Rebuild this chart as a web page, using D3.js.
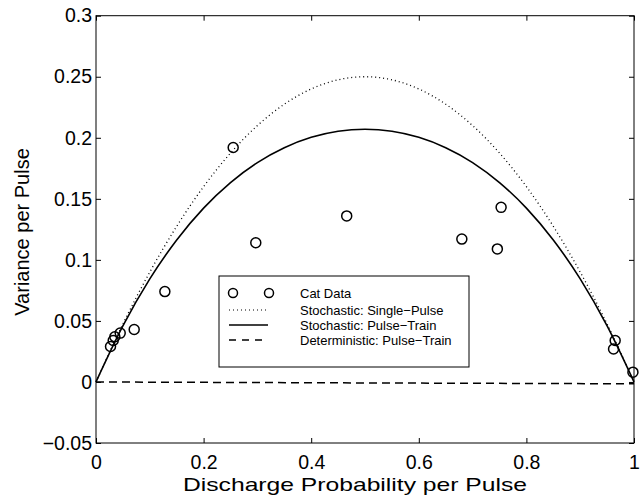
<!DOCTYPE html>
<html><head><meta charset="utf-8">
<script src="https://cdn.jsdelivr.net/npm/d3@7"></script>
<style>
body{margin:0;background:#fff;}
svg{display:block;}
text{font-family:"Liberation Sans",Arial,Helvetica,sans-serif;fill:#000;}
</style></head>
<body>
<svg id="chart" width="643" height="497"></svg>
<script>
// ---- data ----
const catP = [0.027, 0.032, 0.035, 0.045, 0.071, 0.128, 0.255, 0.297, 0.466, 0.680, 0.746, 0.753, 0.962, 0.965, 0.998];
const catVar = [0.029, 0.034, 0.037, 0.040, 0.043, 0.074, 0.192, 0.114, 0.136, 0.117, 0.109, 0.143, 0.027, 0.034, 0.008];

const curveP = [0, 0.05, 0.1, 0.15, 0.2, 0.25, 0.3, 0.35, 0.4, 0.45, 0.5, 0.55, 0.6, 0.65, 0.7, 0.75, 0.8, 0.85, 0.9, 0.95, 1];
const singlePulse = [0, 0.0475, 0.09, 0.1275, 0.16, 0.1875, 0.21, 0.2275, 0.24, 0.2475, 0.25, 0.2475, 0.24, 0.2275, 0.21, 0.1875, 0.16, 0.1275, 0.09, 0.0475, 0];
const pulseTrain = [0, 0.0459, 0.0844, 0.1163, 0.1424, 0.1633, 0.1797, 0.1919, 0.2004, 0.2054, 0.207, 0.2054, 0.2004, 0.1919, 0.1797, 0.1633, 0.1424, 0.1163, 0.0844, 0.0459, 0];
const detP = [0, 0.5, 1];
const deterministic = [0, -0.0008, -0.0015];

const xTicks = [0, 0.2, 0.4, 0.6, 0.8, 1];
const xTickLabels = ["0", "0.2", "0.4", "0.6", "0.8", "1"];
const yTicks = [-0.05, 0, 0.05, 0.1, 0.15, 0.2, 0.25, 0.3];
const yTickLabels = ["\u22120.05", "0", "0.05", "0.1", "0.15", "0.2", "0.25", "0.3"];

const legendLabels = ["Cat Data", "Stochastic: Single\u2212Pulse", "Stochastic: Pulse\u2212Train", "Deterministic: Pulse\u2212Train"];

// ---- layout ----
const L = 96, R = 634, T = 15.7, B = 443;
const svg = d3.select("#chart");
const x = d3.scaleLinear().domain([0, 1]).range([L, R]);
const y = d3.scaleLinear().domain([-0.05, 0.3]).range([B, T]);

// box
svg.append("rect").attr("x", L).attr("y", T).attr("width", R - L).attr("height", B - T)
  .attr("fill", "none").attr("stroke", "#000").attr("stroke-width", 1);

const tickLen = 5;
const xb = svg.append("g").attr("transform", `translate(0,${B})`)
  .call(d3.axisBottom(x).tickValues(xTicks).tickSizeInner(-tickLen).tickSizeOuter(0).tickPadding(12)
    .tickFormat((d, i) => xTickLabels[i]));
const xt = svg.append("g").attr("transform", `translate(0,${T})`)
  .call(d3.axisTop(x).tickValues(xTicks).tickSizeInner(-tickLen).tickSizeOuter(0).tickFormat(""));
const yl = svg.append("g").attr("transform", `translate(${L},0)`)
  .call(d3.axisLeft(y).tickValues(yTicks).tickSizeInner(-tickLen).tickSizeOuter(0).tickPadding(4)
    .tickFormat((d, i) => yTickLabels[i]));
const yr = svg.append("g").attr("transform", `translate(${R},0)`)
  .call(d3.axisRight(y).tickValues(yTicks).tickSizeInner(-tickLen).tickSizeOuter(0).tickFormat(""));
[xb, xt, yl, yr].forEach(g => {
  g.select(".domain").remove();
  g.selectAll("line").attr("stroke", "#000");
  g.selectAll("text").attr("font-size", 19.5).attr("fill", "#000")
    .style("font-family", '"Liberation Sans",Arial,sans-serif');
});

// axis titles
svg.append("text").attr("x", 355).attr("y", 491).attr("text-anchor", "middle")
  .attr("font-size", 18.5).attr("textLength", 344).attr("lengthAdjust", "spacingAndGlyphs")
  .text("Discharge Probability per Pulse");
svg.append("text").attr("transform", `translate(29,232) rotate(-90)`)
  .attr("text-anchor", "middle").attr("font-size", 20).text("Variance per Pulse");

// curves
const line = d3.line().x(d => x(d[0])).y(d => y(d[1])).curve(d3.curveMonotoneX);
svg.append("path").datum(curveP.map((p, i) => [p, singlePulse[i]])).attr("d", line)
  .attr("fill", "none").attr("stroke", "#000").attr("stroke-width", 1.3).attr("stroke-dasharray", "1,3");
svg.append("path").datum(curveP.map((p, i) => [p, pulseTrain[i]])).attr("d", line)
  .attr("fill", "none").attr("stroke", "#000").attr("stroke-width", 1.6);
svg.append("path").datum(detP.map((p, i) => [p, deterministic[i]])).attr("d", d3.line().x(d => x(d[0])).y(d => y(d[1])))
  .attr("fill", "none").attr("stroke", "#000").attr("stroke-width", 1.5).attr("stroke-dasharray", "8,5");

// cat data
svg.append("g").selectAll("circle").data(catP.map((p, i) => [p, catVar[i]])).join("circle")
  .attr("cx", d => x(d[0])).attr("cy", d => y(d[1])).attr("r", 5)
  .attr("fill", "none").attr("stroke", "#000").attr("stroke-width", 1.5);

// legend
const lg = svg.append("g");
lg.append("rect").attr("x", 219).attr("y", 276).attr("width", 250).attr("height", 91)
  .attr("fill", "#fff").attr("stroke", "#000").attr("stroke-width", 1);
const rowsY = [293, 310, 325, 340];
const sx0 = 229, sx1 = 268;
lg.append("circle").attr("cx", 233).attr("cy", rowsY[0]).attr("r", 4.5).attr("fill", "none").attr("stroke", "#000").attr("stroke-width", 1.5);
lg.append("circle").attr("cx", 269).attr("cy", rowsY[0]).attr("r", 4.5).attr("fill", "none").attr("stroke", "#000").attr("stroke-width", 1.5);
lg.append("line").attr("x1", sx0).attr("x2", sx1).attr("y1", rowsY[1]).attr("y2", rowsY[1])
  .attr("stroke", "#000").attr("stroke-width", 1.2).attr("stroke-dasharray", "1,3");
lg.append("line").attr("x1", sx0).attr("x2", sx1).attr("y1", rowsY[2]).attr("y2", rowsY[2])
  .attr("stroke", "#000").attr("stroke-width", 1.6);
lg.append("line").attr("x1", sx0).attr("x2", sx1).attr("y1", rowsY[3]).attr("y2", rowsY[3])
  .attr("stroke", "#000").attr("stroke-width", 1.5).attr("stroke-dasharray", "7,6");
legendLabels.forEach((t, i) => {
  lg.append("text").attr("x", 300).attr("y", rowsY[i]).attr("dy", "0.35em").attr("font-size", 13).text(t);
});
</script>
</body></html>
